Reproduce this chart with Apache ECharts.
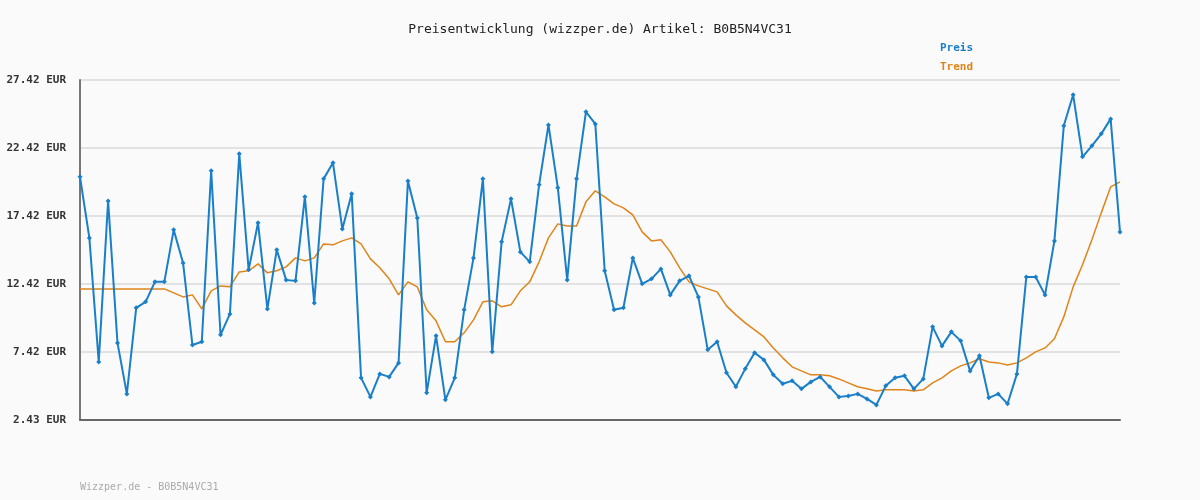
<!DOCTYPE html>
<html>
<head>
<meta charset="utf-8">
<script src="https://cdn.jsdelivr.net/npm/echarts@6/dist/echarts.min.js"></script>
<style>
  html, body { margin: 0; padding: 0; background: #fafafa; }
  #chart { width: 1200px; height: 500px; }
</style>
</head>
<body>
<div id="chart"></div>
<script>
const preis = [
  20.30, 15.81, 6.69, 18.53, 8.09, 4.34, 10.67, 11.11, 12.58, 12.58,
  16.40, 13.97, 7.94, 8.17, 20.74, 8.68, 10.22, 21.99, 13.46, 16.92,
  10.59, 14.93, 12.72, 12.65, 18.83, 11.03, 20.15, 21.33, 16.47, 19.05,
  5.52, 4.12, 5.81, 5.59, 6.62, 20.00, 17.28, 4.42, 8.61, 3.90,
  5.52, 10.52, 14.34, 20.15, 7.43, 15.52, 18.68, 14.78, 14.05, 19.71,
  24.12, 19.49, 12.72, 20.15, 25.08, 24.19, 13.39, 10.52, 10.67, 14.34,
  12.43, 12.80, 13.53, 11.62, 12.65, 13.02, 11.47, 7.58, 8.17, 5.89,
  4.86, 6.18, 7.36, 6.84, 5.74, 5.08, 5.30, 4.71, 5.22, 5.59,
  4.86, 4.12, 4.19, 4.34, 3.97, 3.53, 4.93, 5.52, 5.67, 4.71,
  5.44, 9.27, 7.87, 8.90, 8.24, 6.03, 7.14, 4.05, 4.34, 3.61,
  5.81, 12.94, 12.94, 11.62, 15.59, 24.05, 26.33, 21.77, 22.58, 23.46,
  24.56, 16.25
];

const trend = [
  12.06, 12.06, 12.06, 12.06, 12.06, 12.06, 12.06, 12.06, 12.06, 12.06,
  11.77, 11.47, 11.62, 10.59, 11.92, 12.28, 12.21, 13.31, 13.39, 13.90,
  13.24, 13.39, 13.68, 14.34, 14.12, 14.34, 15.37, 15.30, 15.59, 15.81,
  15.37, 14.27, 13.61, 12.80, 11.62, 12.58, 12.21, 10.52, 9.71, 8.17,
  8.17, 8.83, 9.78, 11.11, 11.18, 10.74, 10.89, 11.92, 12.58, 14.05,
  15.81, 16.84, 16.69, 16.69, 18.46, 19.27, 18.83, 18.31, 18.02, 17.50,
  16.25, 15.59, 15.67, 14.78, 13.61, 12.58, 12.28, 12.06, 11.84, 10.81,
  10.15, 9.56, 9.05, 8.53, 7.72, 6.99, 6.33, 6.03, 5.74, 5.74,
  5.67, 5.44, 5.15, 4.86, 4.71, 4.56, 4.64, 4.64, 4.64, 4.56,
  4.64, 5.15, 5.52, 6.03, 6.40, 6.62, 6.92, 6.69, 6.62, 6.47,
  6.62, 6.99, 7.43, 7.72, 8.39, 10.00, 12.21, 13.83, 15.67, 17.65,
  19.56, 19.93
];

const days = preis.map((v, i) => String(i + 1));
const yMin = 2.42;
const yMax = 27.42;
const minLabel = '2.43';

const mono = '"DejaVu Sans Mono", monospace';
const chart = echarts.init(document.getElementById('chart'));

chart.setOption({
  backgroundColor: '#fafafa',
  animation: false,
  title: {
    text: 'Preisentwicklung (wizzper.de) Artikel: B0B5N4VC31',
    left: 'center',
    top: 18,
    textStyle: { fontFamily: mono, fontSize: 13, fontWeight: 'normal', color: '#222' },
  },
  legend: {
    orient: 'vertical',
    left: 935,
    top: 38,
    itemWidth: 0,
    itemHeight: 0,
    itemGap: 8,
    icon: 'none',
    selectedMode: false,
    textStyle: { fontFamily: mono, fontSize: 11, fontWeight: 'bold', padding: [0, 0, 0, -5] },
    data: [
      { name: 'Preis', textStyle: { color: '#1a7fc9' } },
      { name: 'Trend', textStyle: { color: '#e0841a' } },
    ],
  },
  graphic: [{
    type: 'text',
    left: 80,
    top: 482,
    style: { text: 'Wizzper.de - B0B5N4VC31', fill: '#aaa', font: '10px ' + mono },
  }],
  grid: { left: 80, right: 80, top: 80, bottom: 80 },
  xAxis: {
    type: 'category',
    data: days,
    boundaryGap: false,
    axisLine: { lineStyle: { color: '#666', width: 2 } },
    axisTick: { show: false },
    axisLabel: { show: false },
  },
  yAxis: {
    type: 'value',
    min: yMin,
    max: yMax,
    interval: 5,
    axisLine: { show: true, lineStyle: { color: '#777', width: 2 } },
    axisTick: { show: false },
    splitLine: { lineStyle: { color: '#e2e2e2', width: 2 } },
    axisLabel: {
      fontFamily: mono,
      fontSize: 11,
      fontWeight: 'bold',
      color: '#333',
      margin: 14,
      formatter: (v) => (Math.abs(v - yMin) < 0.001 ? minLabel : v.toFixed(2)) + ' EUR',
    },
  },
  series: [
    {
      name: 'Preis',
      type: 'line',
      data: preis,
      color: '#1a7fc9',
      symbol: 'diamond',
      symbolSize: 5,
      lineStyle: { width: 2 },
      z: 3,
    },
    {
      name: 'Trend',
      type: 'line',
      data: trend,
      color: '#e0841a',
      symbol: 'none',
      lineStyle: { width: 1.5 },
      z: 2,
    },
  ],
});
</script>
</body>
</html>
